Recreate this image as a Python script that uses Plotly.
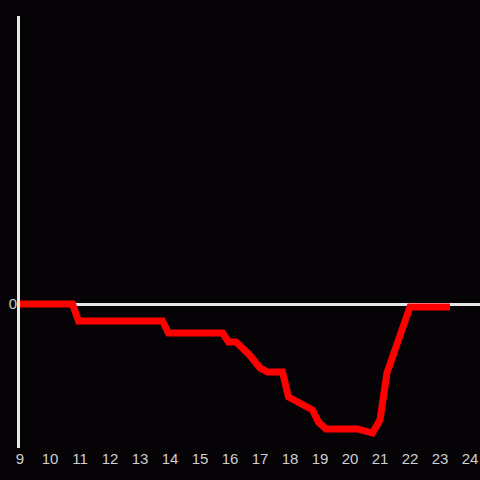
import plotly.graph_objects as go

hours = [9, 10.75, 10.95, 13.75, 13.95, 15.75, 15.95, 16.2, 16.65, 17.0, 17.25,
         17.75, 17.95, 18.3, 18.75, 18.95, 19.2, 20.25, 20.75, 21.0, 21.23, 22.0, 23.33]
values = [0, 0, -5.9, -5.9, -10.1, -10.1, -13.2, -13.2, -17.7, -22.2, -23.6,
          -23.6, -32.3, -34.4, -36.8, -41.0, -43.4, -43.4, -44.8, -40.3, -24.0, -1.0, -1.0]
x_ticks = list(range(9, 25))
y_ticks = [0]

bg = "#050306"
fig = go.Figure(go.Scatter(x=hours, y=values, mode="lines",
                           line=dict(color="#ff0000", width=7), hoverinfo="skip"))
fig.update_layout(
    width=480, height=480, paper_bgcolor=bg, plot_bgcolor=bg,
    margin=dict(l=20, r=0, t=16, b=32), showlegend=False,
    font=dict(family="Liberation Sans, Arial, sans-serif", size=15, color="#cfcfcf"),
    xaxis=dict(range=[9, 24.333], tickvals=x_ticks, ticktext=[str(t) for t in x_ticks],
               showgrid=False, zeroline=False, showline=False, ticks="", ticklen=0,
               ticklabelstandoff=0),
    yaxis=dict(range=[-50, 100], tickvals=y_ticks, ticktext=["0"], showgrid=False,
               zeroline=True, zerolinecolor="#e6e6e6", zerolinewidth=3,
               showline=True, linecolor="#e6e6e6", linewidth=3, ticks="", ticklen=0,
               ticklabelstandoff=-3),
)
fig.write_html("out.html", config={"displayModeBar": False},
               post_script="document.body.style.margin='0';document.body.style.overflow='hidden';document.body.style.background='" + bg + "';")
